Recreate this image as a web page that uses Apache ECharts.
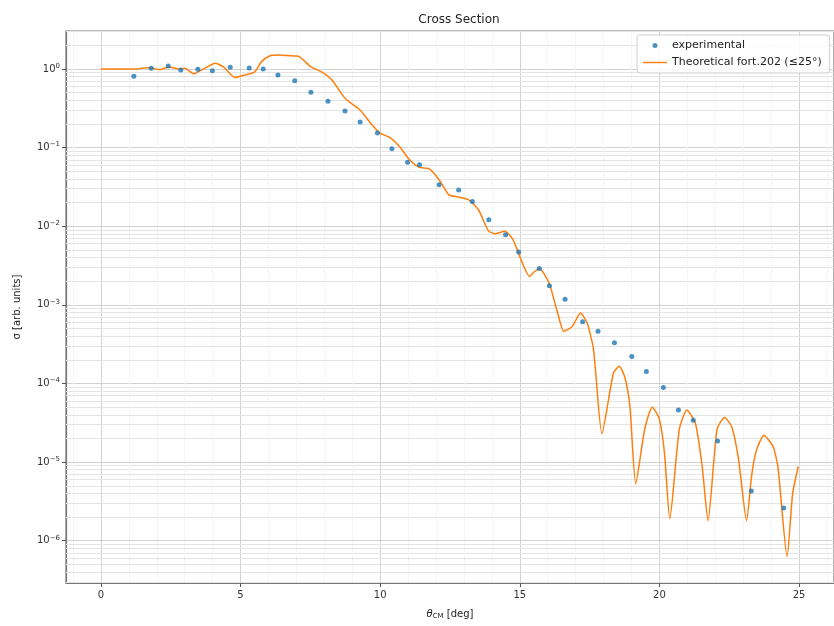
<!DOCTYPE html>
<html>
<head>
<meta charset="utf-8">
<script src="https://cdn.jsdelivr.net/npm/echarts@6/dist/echarts.min.js"></script>
<style>
html,body{margin:0;padding:0;background:#fff;}
#chart{width:834px;height:626px;}
</style>
</head>
<body>
<div id="chart"></div>
<script>
// Experimental data
var expTheta = [1.18,1.80,2.41,2.86,3.47,3.99,4.63,5.31,5.81,6.34,6.94,7.52,8.13,8.74,9.28,9.90,10.42,10.98,11.41,12.11,12.81,13.30,13.89,14.49,14.96,15.70,16.06,16.62,17.25,17.80,18.39,19.01,19.53,20.14,20.68,21.21,22.08,23.29,24.45];
var expSigma = [0.81,1.02,1.09,0.97,0.99,0.95,1.05,1.03,1.0,0.84,0.71,0.506,0.389,0.293,0.212,0.153,0.097,0.0651,0.0604,0.0337,0.0289,0.0206,0.0121,0.0078,0.0047,0.0029,0.00175,0.00118,6.1e-4,4.6e-4,3.3e-4,2.2e-4,1.42e-4,8.9e-5,4.6e-5,3.4e-5,1.85e-5,4.3e-6,2.6e-6];

// Theoretical curve
var thTheta = [0.0,0.5,1.0,1.3,1.5,1.75,2.1,2.45,2.8,3.0,3.33,3.69,4.1,4.39,4.8,5.16,5.51,5.75,6.04,6.35,6.7,7.04,7.2,7.51,7.99,8.28,8.75,9.28,9.63,9.99,10.34,10.69,11.05,11.4,11.75,12.11,12.46,12.81,13.17,13.52,13.87,14.11,14.46,14.76,15.05,15.35,15.5,15.7,16.05,16.35,16.58,16.88,17.17,17.41,17.64,17.94,18.35,18.56,18.76,18.94,19.15,19.47,19.74,20.0,20.18,20.37,20.71,20.98,21.29,21.53,21.74,22.06,22.33,22.59,22.83,23.12,23.3,23.47,23.74,24.06,24.24,24.57,24.77,24.97];
var thSigma = [1.0,1.0,1.0,1.0,1.03,1.04,0.98,1.06,1.0,1.02,0.87,1.01,1.18,1.06,0.78,0.84,0.92,1.24,1.46,1.5,1.48,1.46,1.35,1.07,0.88,0.72,0.42,0.30,0.21,0.153,0.135,0.103,0.070,0.056,0.054,0.039,0.025,0.0235,0.0217,0.0162,0.0088,0.0080,0.0086,0.0067,0.0037,0.00229,0.0026,0.0029,0.00188,8e-4,4.6e-4,5.3e-4,7.9e-4,5.9e-4,2.7e-4,2.3e-5,1.35e-4,1.66e-4,1.2e-4,5.2e-5,5.3e-6,2.6e-5,5.0e-5,3.5e-5,1.3e-5,1.9e-6,2.6e-5,4.6e-5,3.1e-5,8.8e-6,1.8e-6,2.6e-5,3.7e-5,2.8e-5,1.1e-5,1.8e-6,6.7e-6,1.4e-5,2.2e-5,1.6e-5,8.8e-6,6.3e-7,4.0e-6,8.8e-6];

// Axis settings / tick values
var xMin = -1.25, xMax = 26.25;
var yMin = 2.9e-7, yMax = 3.04;
var minorYTicks = [];
for (var e = -7; e <= 0; e++) {
  for (var m = 2; m <= 9; m++) {
    var v = m * Math.pow(10, e);
    if (v > yMin && v < yMax) minorYTicks.push(v);
  }
}

var expData = expTheta.map(function (t, i) { return [t, expSigma[i]]; });
var thData = thTheta.map(function (t, i) { return [t, thSigma[i]]; });
var thName = 'Theoretical fort.202 (\u226425\u00b0)';

var chart = echarts.init(document.getElementById('chart'), null, {renderer: 'canvas'});
var font = 'DejaVu Sans';
chart.setOption({
  backgroundColor: '#fff',
  animation: false,
  textStyle: {fontFamily: font},
  title: {
    text: 'Cross Section',
    left: 454, top: 9, textAlign: 'center',
    textStyle: {fontFamily: font, fontSize: 12, fontWeight: 'normal', color: '#222'}
  },
  legend: {
    orient: 'vertical',
    left: 637, top: 35,
    padding: [5, 8, 5, 6],
    itemGap: 6,
    itemWidth: 24, itemHeight: 5,
    borderColor: '#d0d0d0', borderWidth: 1, borderRadius: 3,
    backgroundColor: 'rgba(255,255,255,0.85)',
    textStyle: {fontFamily: font, fontSize: 11, color: '#222'},
    data: [
      {name: 'experimental', icon: 'circle'},
      {name: thName, icon: 'path://M0,0 L100,0 L100,6 L0,6 Z'}
    ]
  },
  grid: {
    left: 66, top: 31, bottom: 43, right: -10,
    show: true, borderColor: '#777', borderWidth: 1.2, backgroundColor: 'transparent'
  },
  xAxis: {
    type: 'value', min: xMin, max: xMax, splitNumber: 5,
    name: '{i|\u03b8}{sub|CM} [deg]',
    nameLocation: 'middle', nameGap: 26,
    nameTextStyle: {fontFamily: font, fontSize: 10, color: '#222',
      rich: {i: {fontFamily: font, fontSize: 10, fontStyle: 'italic', color: '#222'},
             sub: {fontFamily: font, fontSize: 7, color: '#222', verticalAlign: 'bottom', padding: [4, 0, 0, 0]}}},
    axisLine: {show: true, onZero: false, lineStyle: {color: '#777', width: 1.2}},
    axisTick: {show: true, length: 4, lineStyle: {color: '#555'}},
    axisLabel: {fontFamily: font, fontSize: 10, color: '#333', margin: 7, showMinLabel: false, showMaxLabel: false},
    splitLine: {show: true, lineStyle: {color: '#d2d2d2', width: 1}},
    minorTick: {show: false, splitNumber: 5},
    minorSplitLine: {show: true, lineStyle: {color: '#ececec', width: 1, type: 'dotted'}}
  },
  yAxis: {
    type: 'log', logBase: 10, min: yMin, max: yMax, splitNumber: 7,
    name: '\u03c3 [arb. units]',
    nameLocation: 'middle', nameGap: 44, nameRotate: 90,
    nameTextStyle: {fontFamily: font, fontSize: 10, color: '#222'},
    axisLine: {show: true, onZero: false, lineStyle: {color: '#777', width: 1.2}},
    axisTick: {show: true, length: 4, lineStyle: {color: '#555'}},
    axisLabel: {
      fontFamily: font, fontSize: 10, color: '#333', margin: 6,
      showMinLabel: false, showMaxLabel: false,
      formatter: function (v) {
        var ex = Math.round(Math.log(v) / Math.LN10);
        return '10{sup|' + (ex < 0 ? '\u2212' + (-ex) : ex) + '}';
      },
      rich: {sup: {fontFamily: font, fontSize: 7, color: '#333', verticalAlign: 'top', padding: [0, 0, 6, 0]}}
    },
    splitLine: {show: true, lineStyle: {color: '#d2d2d2', width: 1}},
    minorTick: {show: false},
    minorSplitLine: {show: false}
  },
  series: [
    {
      name: 'experimental',
      type: 'scatter',
      data: expData,
      symbol: 'circle', symbolSize: 5,
      itemStyle: {color: '#1f77b4'},
      z: 4
    },
    {
      name: thName,
      type: 'line',
      data: thData,
      showSymbol: false, symbol: 'none',
      smooth: 0.2,
      lineStyle: {color: '#ff7f0e', width: 1.5},
      itemStyle: {color: '#ff7f0e'},
      z: 3,
      markLine: {
        silent: true, symbol: ['none', 'none'], label: {show: false},
        lineStyle: {color: '#e4e4e4', width: 1, type: 'solid'},
        emphasis: {disabled: true},
        animation: false,
        data: minorYTicks.map(function (v) { return [{coord: [xMin, v]}, {coord: [xMax, v]}]; }),
        z: 1
      }
    }
  ]
});
</script>
</body>
</html>
